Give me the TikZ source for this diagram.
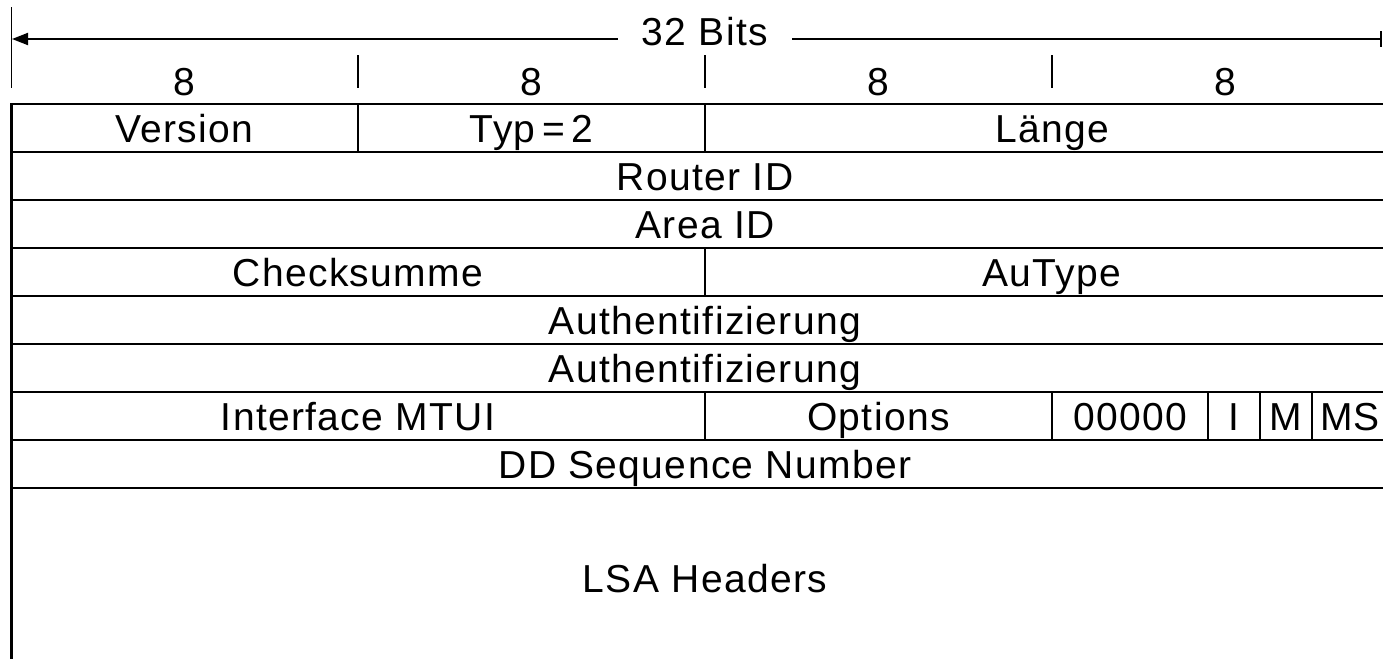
\documentclass[tikz,border=0pt]{standalone}
\usepackage{fontspec}
\setmainfont{Liberation Sans}[LetterSpace=3.5]
\usetikzlibrary{arrows.meta}
\begin{document}
\begin{tikzpicture}[x=1pt,y=-1pt,
  lbl/.style={anchor=base,inner sep=0pt,font=\fontsize{39}{46}\selectfont},
  hline/.style={line width=2.5pt},
  vline/.style={line width=1.8pt},
  tickline/.style={line width=1.8pt}]
\useasboundingbox (0,0) rectangle (1383,659);
\begin{scope}
\clip (0,0) rectangle (1383,659);
% top dimension line
\coordinate (al) at (12,39);
\coordinate (ar) at (1382,39);
\node[lbl,inner xsep=24pt] (bits) at (705,45) {32 Bits};
\draw[tickline,-{Bar[width=16pt]}] (bits.east |- ar) -- (ar);
\draw[tickline,-{Triangle[length=16pt,width=12pt]}] (bits.west |- al) -- (al);
\draw[tickline] (11.5,7) -- (11.5,88);
\foreach \x in {358,705,1052} \draw[tickline] (\x,55) -- (\x,88);
\foreach \x/\n in {184.5/a,531.5/b,878.5/c,1225.5/d} \node[lbl] (eight\n) at (\x,95) {8};
% table
\foreach \y in {104,152,200,248,296,344,392,440,488} \draw[hline] (10.3,\y) -- (1399,\y);
\draw[hline] (11.5,104) -- (11.5,659);
\foreach \x in {358,705} \draw[vline] (\x,104) -- (\x,152);
\draw[vline] (705,248) -- (705,296);
\foreach \x in {705,1052,1208,1260,1312} \draw[vline] (\x,392) -- (\x,440);
% texts
\node[lbl] (ver) at (184.5,142) {Version};
\node[lbl] (typ) at (531.5,142) {Typ\,=\,2};
\node[lbl] (len) at (1052,142) {Länge};
\node[lbl] (rid) at (705,190) {Router ID};
\node[lbl] (aid) at (705,238) {Area ID};
\node[lbl] (chk) at (358,286) {Checksumme};
\node[lbl] (aut) at (1052,286) {AuType};
\node[lbl] (auth1) at (705,334) {Authentifizierung};
\node[lbl] (auth2) at (705,382) {Authentifizierung};
\node[lbl] (mtu) at (358,430) {Interface MTUI};
\node[lbl] (opt) at (878.5,430) {Options};
\node[lbl] (zero) at (1130,430) {00000};
\node[lbl] (fi) at (1234,430) {I};
\node[lbl] (fm) at (1286,430) {M};
\node[lbl] (fms) at (1350,430) {MS};
\node[lbl] (dd) at (705,478) {DD Sequence Number};
\node[lbl] (lsa) at (705,592) {LSA Headers};
\end{scope}
\end{tikzpicture}
\end{document}
